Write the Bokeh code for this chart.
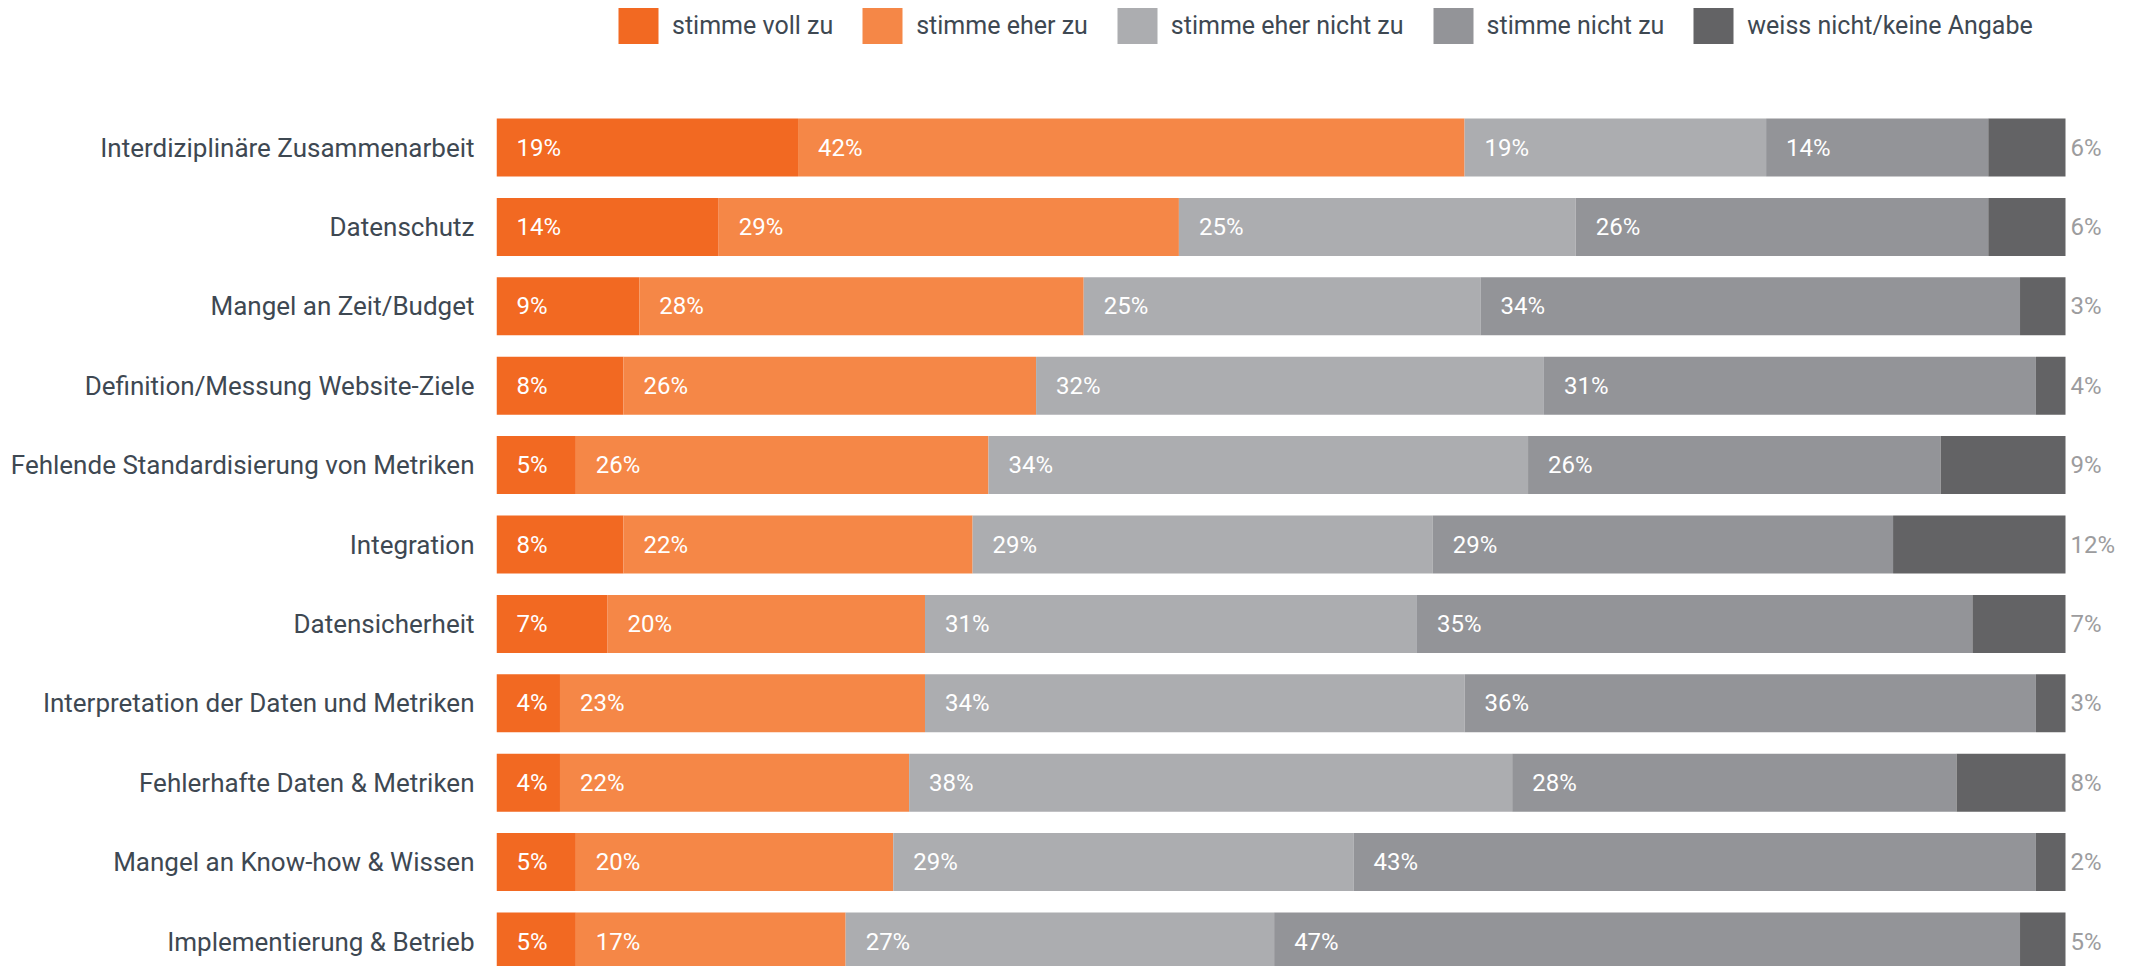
from bokeh.plotting import figure
from bokeh.models import ColumnDataSource, Range1d, FixedTicker
from bokeh.core.properties import value
from bokeh.embed import file_html
from bokeh.resources import INLINE

categories = [
    "Interdiziplinäre Zusammenarbeit",
    "Datenschutz",
    "Mangel an Zeit/Budget",
    "Definition/Messung Website-Ziele",
    "Fehlende Standardisierung von Metriken",
    "Integration",
    "Datensicherheit",
    "Interpretation der Daten und Metriken",
    "Fehlerhafte Daten & Metriken",
    "Mangel an Know-how & Wissen",
    "Implementierung & Betrieb",
]
series_names = ["stimme voll zu", "stimme eher zu", "stimme eher nicht zu",
                "stimme nicht zu", "weiss nicht/keine Angabe"]
voll = [19, 14, 9, 8, 5, 8, 7, 4, 4, 5, 5]
eher = [42, 29, 28, 26, 26, 22, 20, 23, 22, 20, 17]
eher_nicht = [19, 25, 25, 32, 34, 29, 31, 34, 38, 29, 27]
nicht = [14, 26, 34, 31, 26, 29, 35, 36, 28, 43, 47]
weiss = [6, 6, 3, 4, 9, 12, 7, 3, 8, 2, 5]
colors = ["#F26922", "#F58747", "#ACADB0", "#939498", "#636365"]

series = [voll, eher, eher_nicht, nicht, weiss]
n = len(categories)
rows = list(range(1, n + 1))

W, H = 2140, 966
FRAME_LEFT = 496
PX_PER_PCT = 15.87          # horizontal scale of the original chart
BAR_END = 1569 / PX_PER_PCT  # all bars end at the same length
PITCH = 79.4

p = figure(width=W, height=H, output_backend="svg", toolbar_location=None,
           x_range=Range1d(0, (W - FRAME_LEFT) / PX_PER_PCT),
           y_range=Range1d(11 + (H - 941) / PITCH, 1 - 147 / PITCH),
           min_border_left=FRAME_LEFT, min_border_right=0,
           min_border_top=0, min_border_bottom=0)
p.xaxis.visible = False
p.grid.visible = False
p.outline_line_color = None
p.background_fill_color = "white"
p.border_fill_color = "white"

ax = p.yaxis[0]
ax.ticker = FixedTicker(ticks=rows)
ax.major_label_overrides = {r: c for r, c in zip(rows, categories)}
ax.axis_line_color = None
ax.major_tick_line_color = None
ax.minor_tick_line_color = None
ax.major_tick_out = 0
ax.major_tick_in = 0
ax.major_label_standoff = 22
ax.major_label_text_font = "Roboto"
ax.major_label_text_font_size = "26px"
ax.major_label_text_color = "#3e4852"

cum = [0.0] * n
for k, (s, name, col) in enumerate(zip(series, series_names, colors)):
    left = list(cum)
    if k < len(series) - 1:
        for i in range(n):
            cum[i] += s[i]
        right = list(cum)
    else:
        right = [BAR_END] * n
    src = ColumnDataSource(dict(y=rows, left=left, right=right,
                                lab=[f"{v}%" for v in s]))
    p.hbar(y="y", left="left", right="right", height=58 / PITCH, source=src,
           fill_color=col, line_color=None, legend_label=name)
    if k < len(series) - 1:
        p.text(x="left", y="y", text="lab", source=src, x_offset=20,
               text_color="white", text_font=value("Roboto"),
               text_font_size="24px", text_baseline="middle", text_align="left")
    else:
        p.text(x="right", y="y", text="lab", source=src, x_offset=5,
               text_color="#9c9c9e", text_font=value("Roboto"),
               text_font_size="24px", text_baseline="middle", text_align="left")

lg = p.legend[0]
lg.orientation = "horizontal"
lg.location = (117, H - 3 - 45)
lg.glyph_width = 50
lg.glyph_height = 45
lg.label_standoff = 9
lg.spacing = 24
lg.padding = 0
lg.margin = 0
lg.border_line_color = None
lg.background_fill_alpha = 0
lg.label_text_font = "Roboto"
lg.label_text_font_size = "25px"
lg.label_text_color = "#3e4852"
lg.label_text_baseline = "top"
lg.label_text_line_height = 1.8

open("out.html", "w").write(file_html(p, INLINE))
